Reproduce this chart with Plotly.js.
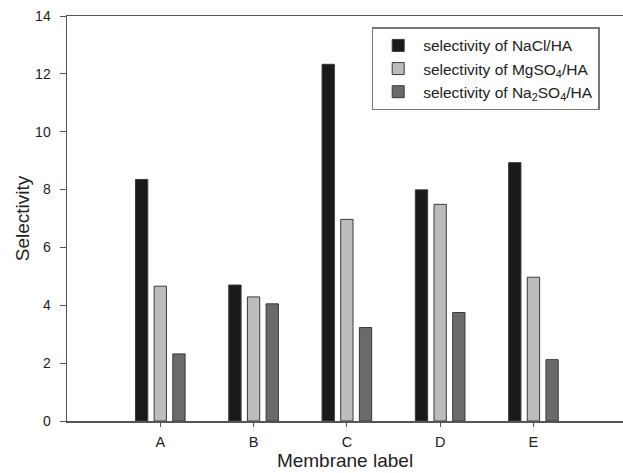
<!DOCTYPE html>
<html>
<head>
<meta charset="utf-8">
<script src="https://cdn.plot.ly/plotly-3.0.1.min.js"></script>
<style>html,body{margin:0;padding:0;background:#fff;}#chart{width:623px;height:473px;}</style>
</head>
<body>
<div id="chart"></div>
<script>
const categories = ['A', 'B', 'C', 'D', 'E'];
const seriesNames = ['selectivity of NaCl/HA', 'selectivity of MgSO<sub>4</sub>/HA', 'selectivity of Na<sub>2</sub>SO<sub>4</sub>/HA'];
const naclHA = [8.35, 4.70, 12.33, 7.99, 8.93];
const mgso4HA = [4.66, 4.29, 6.97, 7.49, 4.97];
const na2so4HA = [2.32, 4.05, 3.23, 3.75, 2.12];
const yTicks = [0, 2, 4, 6, 8, 10, 12, 14];

const colors = ['#1a1a1a', '#bcbcbc', '#6a6a6a'];
const values = [naclHA, mgso4HA, na2so4HA];

const traces = values.map((v, i) => ({
  type: 'bar',
  x: categories,
  y: v,
  name: seriesNames[i],
  marker: {color: colors[i], line: {color: '#3a3a3a', width: 1}}
}));

const font = {family: 'Liberation Sans, Arial, sans-serif', color: '#222'};

const layout = {
  width: 623, height: 473,
  margin: {l: 67, r: 0, t: 16, b: 52},
  paper_bgcolor: '#fff', plot_bgcolor: '#fff',
  barmode: 'group', bargap: 0.4, bargroupgap: 0.34,
  font: Object.assign({size: 14}, font),
  showlegend: true,
  legend: {
    x: 0.548, y: 0.972, xanchor: 'left', yanchor: 'top',
    bgcolor: '#fff', bordercolor: '#777', borderwidth: 1.5,
    font: Object.assign({size: 15.5}, font),
    tracegroupgap: 0, itemwidth: 40
  },
  xaxis: {
    type: 'category', range: [-1, 4.96],
    showline: true, linecolor: '#555', linewidth: 1.5, mirror: true,
    ticks: 'outside', ticklen: 4, tickcolor: '#555', tickwidth: 1,
    ticklabelstandoff: 3,
    tickfont: Object.assign({size: 14.5}, font),
    showgrid: false, zeroline: false,
    title: {text: 'Membrane label', font: Object.assign({size: 19}, font), standoff: 2}
  },
  yaxis: {
    range: [0, 14], tickvals: yTicks,
    showline: true, linecolor: '#555', linewidth: 1.5,
    ticks: 'outside', ticklen: 6, tickcolor: '#555', tickwidth: 1,
    ticklabelstandoff: 6,
    tickfont: Object.assign({size: 14}, font),
    showgrid: false, zeroline: false,
    title: {text: 'Selectivity', font: Object.assign({size: 19}, font), standoff: 0}
  }
};

Plotly.newPlot('chart', traces, layout, {displayModeBar: false, staticPlot: true});
</script>
</body>
</html>
